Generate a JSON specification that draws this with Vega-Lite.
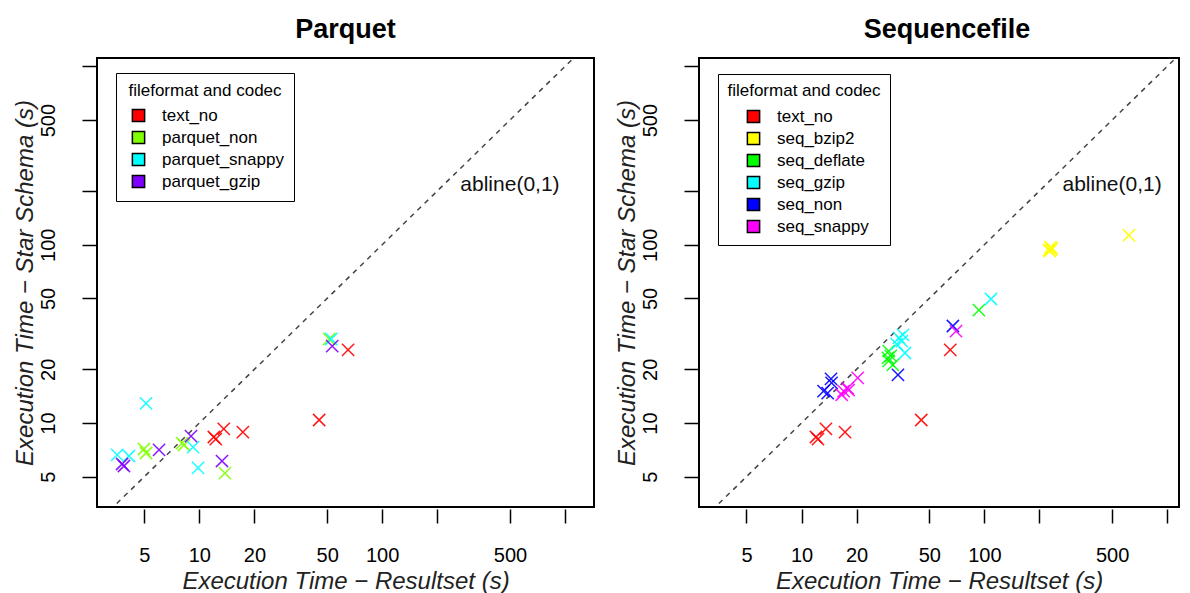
{
  "$schema": "https://vega.github.io/schema/vega-lite/v6.json",
  "padding": {"left": 11, "top": 15, "right": 0, "bottom": 0},
  "spacing": 18,
  "background": "white",
  "datasets": {
    "parquet": [
      {"fmt": "text_no", "x": 65.1, "y": 25.7},
      {"fmt": "text_no", "x": 45.2, "y": 10.4},
      {"fmt": "text_no", "x": 13.6, "y": 9.26},
      {"fmt": "text_no", "x": 12.0, "y": 8.35},
      {"fmt": "text_no", "x": 12.3, "y": 8.13},
      {"fmt": "text_no", "x": 17.3, "y": 8.9},
      {"fmt": "parquet_non", "x": 51.3, "y": 29.6},
      {"fmt": "parquet_non", "x": 8.04, "y": 7.72},
      {"fmt": "parquet_non", "x": 8.24, "y": 7.53},
      {"fmt": "parquet_non", "x": 4.98, "y": 7.15},
      {"fmt": "parquet_non", "x": 5.11, "y": 6.79},
      {"fmt": "parquet_non", "x": 13.8, "y": 5.24},
      {"fmt": "parquet_snappy", "x": 52.6, "y": 29.6},
      {"fmt": "parquet_snappy", "x": 5.11, "y": 12.9},
      {"fmt": "parquet_snappy", "x": 9.24, "y": 7.33},
      {"fmt": "parquet_snappy", "x": 3.55, "y": 6.62},
      {"fmt": "parquet_snappy", "x": 4.12, "y": 6.53},
      {"fmt": "parquet_snappy", "x": 9.84, "y": 5.6},
      {"fmt": "parquet_gzip", "x": 53.3, "y": 27.0},
      {"fmt": "parquet_gzip", "x": 9.0, "y": 8.45},
      {"fmt": "parquet_gzip", "x": 6.02, "y": 7.06},
      {"fmt": "parquet_gzip", "x": 3.78, "y": 5.89},
      {"fmt": "parquet_gzip", "x": 3.87, "y": 5.74},
      {"fmt": "parquet_gzip", "x": 13.3, "y": 6.12}
    ],
    "seq": [
      {"fmt": "text_no", "x": 65.1, "y": 25.7},
      {"fmt": "text_no", "x": 45.2, "y": 10.4},
      {"fmt": "text_no", "x": 13.6, "y": 9.26},
      {"fmt": "text_no", "x": 12.0, "y": 8.35},
      {"fmt": "text_no", "x": 12.3, "y": 8.13},
      {"fmt": "text_no", "x": 17.3, "y": 8.9},
      {"fmt": "seq_bzip2", "x": 226, "y": 93.4},
      {"fmt": "seq_bzip2", "x": 234, "y": 95.8},
      {"fmt": "seq_bzip2", "x": 230, "y": 97},
      {"fmt": "seq_bzip2", "x": 228, "y": 92},
      {"fmt": "seq_bzip2", "x": 232, "y": 94},
      {"fmt": "seq_bzip2", "x": 618, "y": 113},
      {"fmt": "seq_deflate", "x": 93.4, "y": 43.0},
      {"fmt": "seq_deflate", "x": 29.7, "y": 23.2},
      {"fmt": "seq_deflate", "x": 30.0, "y": 25.3},
      {"fmt": "seq_deflate", "x": 30.8, "y": 23.8},
      {"fmt": "seq_deflate", "x": 30.0, "y": 22.3},
      {"fmt": "seq_deflate", "x": 31.6, "y": 21.2},
      {"fmt": "seq_gzip", "x": 108.7, "y": 49.6},
      {"fmt": "seq_gzip", "x": 34.1, "y": 30.0},
      {"fmt": "seq_gzip", "x": 35.9, "y": 31.2},
      {"fmt": "seq_gzip", "x": 35.4, "y": 28.8},
      {"fmt": "seq_gzip", "x": 36.8, "y": 24.7},
      {"fmt": "seq_gzip", "x": 33.2, "y": 27.7},
      {"fmt": "seq_non", "x": 67.3, "y": 35.0},
      {"fmt": "seq_non", "x": 33.7, "y": 18.6},
      {"fmt": "seq_non", "x": 14.5, "y": 17.7},
      {"fmt": "seq_non", "x": 14.6, "y": 16.8},
      {"fmt": "seq_non", "x": 13.2, "y": 15.1},
      {"fmt": "seq_non", "x": 13.9, "y": 14.7},
      {"fmt": "seq_snappy", "x": 70.0, "y": 32.8},
      {"fmt": "seq_snappy", "x": 20.3, "y": 17.9},
      {"fmt": "seq_snappy", "x": 17.9, "y": 15.7},
      {"fmt": "seq_snappy", "x": 17.0, "y": 15.1},
      {"fmt": "seq_snappy", "x": 16.6, "y": 14.4},
      {"fmt": "seq_snappy", "x": 18.1, "y": 15.3}
    ],
    "abline": [{"x": 1, "y": 1}, {"x": 3000, "y": 3000}],
    "lbl": [{"x": 500, "y": 215, "label": "abline(0,1)"}]
  },
  "resolve": {"scale": {"x": "independent", "y": "independent", "color": "independent", "stroke": "independent"}, "legend": {"color": "independent"}},
  "hconcat": [
    {
      "width": 497,
      "height": 449,
      "title": {"text": "Parquet", "fontSize": 27, "fontWeight": "bold", "font": "Liberation Sans", "color": "black", "offset": 14},
      "encoding": {
        "x": {"field": "x", "type": "quantitative", "title": "Execution Time − Resultset (s)",
          "scale": {"type": "log", "domain": [2.755, 1441], "nice": false, "zero": false},
          "axis": {"values": [5, 10, 20, 50, 100, 200, 500, 1000], "labelExpr": "datum.value == 200 || datum.value == 1000 ? '' : format(datum.value, 'd')"}},
        "y": {"field": "y", "type": "quantitative", "title": "Execution Time − Star Schema (s)",
          "scale": {"type": "log", "domain": [3.38, 1115], "nice": false, "zero": false},
          "axis": {"values": [5, 10, 20, 50, 100, 200, 500, 1000], "labelExpr": "datum.value == 200 || datum.value == 1000 ? '' : format(datum.value, 'd')"}}
      },
      "layer": [
        {"data": {"name": "abline"}, "mark": {"type": "line", "clip": true, "color": "#444444", "strokeDash": [5, 5], "strokeWidth": 1.5}},
        {"data": {"name": "parquet"},
          "mark": {"type": "point", "shape": "square", "filled": true, "size": 150, "stroke": "black", "strokeWidth": 1.5, "opacity": 0},
          "encoding": {
            "color": {"field": "fmt", "type": "nominal", "sort": null,
              "scale": {"domain": ["text_no", "parquet_non", "parquet_snappy", "parquet_gzip"], "range": ["#FF0000", "#80FF00", "#00FFFF", "#8000FF"]},
              "legend": {"title": "fileformat and codec", "orient": "none", "legendX": 19, "legendY": 15, "padding": 10, "symbolOffset": 4, "labelOffset": 15, "titleAnchor": "middle", "strokeColor": "black", "fillColor": "white", "rowPadding": 3, "titlePadding": 7, "symbolType": "square", "symbolSize": 150, "symbolStrokeWidth": 1.5, "symbolOpacity": 1}}
          }
        },
        {"data": {"name": "parquet"},
          "mark": {"type": "point", "shape": "M-1,-1L1,1M-1,1L1,-1", "filled": false, "size": 150, "strokeWidth": 1.5, "opacity": 0.9},
          "encoding": {
            "stroke": {"field": "fmt", "type": "nominal", "sort": null,
              "scale": {"range": ["#FF0000", "#80FF00", "#00FFFF", "#8000FF"]},
              "legend": null}
          }
        },
        {"data": {"name": "lbl"}, "mark": {"type": "text", "fontSize": 21, "color": "#111111", "align": "center", "baseline": "middle"}, "encoding": {"text": {"field": "label"}}}
      ]
    },
    {
      "width": 480,
      "height": 449,
      "title": {"text": "Sequencefile", "fontSize": 27, "fontWeight": "bold", "font": "Liberation Sans", "color": "black", "offset": 14, "dx": 8},
      "encoding": {
        "x": {"field": "x", "type": "quantitative", "title": "Execution Time − Resultset (s)",
          "scale": {"type": "log", "domain": [2.75, 1161], "nice": false, "zero": false},
          "axis": {"values": [5, 10, 20, 50, 100, 200, 500, 1000], "labelExpr": "datum.value == 200 || datum.value == 1000 ? '' : format(datum.value, 'd')"}},
        "y": {"field": "y", "type": "quantitative", "title": "Execution Time − Star Schema (s)",
          "scale": {"type": "log", "domain": [3.38, 1115], "nice": false, "zero": false},
          "axis": {"values": [5, 10, 20, 50, 100, 200, 500, 1000], "labelExpr": "datum.value == 200 || datum.value == 1000 ? '' : format(datum.value, 'd')"}}
      },
      "layer": [
        {"data": {"name": "abline"}, "mark": {"type": "line", "clip": true, "color": "#444444", "strokeDash": [5, 5], "strokeWidth": 1.5}},
        {"data": {"name": "seq"},
          "mark": {"type": "point", "shape": "square", "filled": true, "size": 150, "stroke": "black", "strokeWidth": 1.5, "opacity": 0},
          "encoding": {
            "color": {"field": "fmt", "type": "nominal", "sort": null,
              "scale": {"domain": ["text_no", "seq_bzip2", "seq_deflate", "seq_gzip", "seq_non", "seq_snappy"], "range": ["#FF0000", "#FFFF00", "#00FF00", "#00FFFF", "#0000FF", "#FF00FF"]},
              "legend": {"title": "fileformat and codec", "orient": "none", "legendX": 19, "legendY": 16, "padding": 9, "symbolOffset": 6, "labelOffset": 15, "titleAnchor": "middle", "strokeColor": "black", "fillColor": "white", "rowPadding": 3, "titlePadding": 8, "symbolType": "square", "symbolSize": 150, "symbolStrokeWidth": 1.5, "symbolOpacity": 1}}
          }
        },
        {"data": {"name": "seq"},
          "mark": {"type": "point", "shape": "M-1,-1L1,1M-1,1L1,-1", "filled": false, "size": 150, "strokeWidth": 1.5, "opacity": 0.9},
          "encoding": {
            "stroke": {"field": "fmt", "type": "nominal", "sort": null,
              "scale": {"range": ["#FF0000", "#FFFF00", "#00FF00", "#00FFFF", "#0000FF", "#FF00FF"]},
              "legend": null}
          }
        },
        {"data": {"name": "lbl"}, "mark": {"type": "text", "fontSize": 21, "color": "#111111", "align": "center", "baseline": "middle"}, "encoding": {"text": {"field": "label"}}}
      ]
    }
  ],
  "config": {
    "font": "Liberation Sans",
    "view": {"stroke": "black", "strokeWidth": 2},
    "legend": {"titleFontSize": 17, "titleFontWeight": "normal", "labelFontSize": 17, "titleFont": "Liberation Sans", "labelFont": "Liberation Sans", "titleColor": "black", "labelColor": "black"},
    "axis": {"grid": false, "domain": false, "tickColor": "black", "tickWidth": 1.5, "tickSize": 14, "labelFontSize": 20, "labelColor": "black", "labelFont": "Liberation Sans", "titleFont": "Liberation Sans", "titleFontSize": 24, "titleFontStyle": "italic", "titleFontWeight": "normal", "titleColor": "#222222", "labelFlush": false, "labelOverlap": false},
    "axisX": {"offset": 2, "labelPadding": 22, "titlePadding": 4},
    "axisY": {"offset": 1, "labelAngle": -90, "labelAlign": "center", "labelBaseline": "alphabetic", "labelPadding": 28, "titlePadding": 1}
  }
}
